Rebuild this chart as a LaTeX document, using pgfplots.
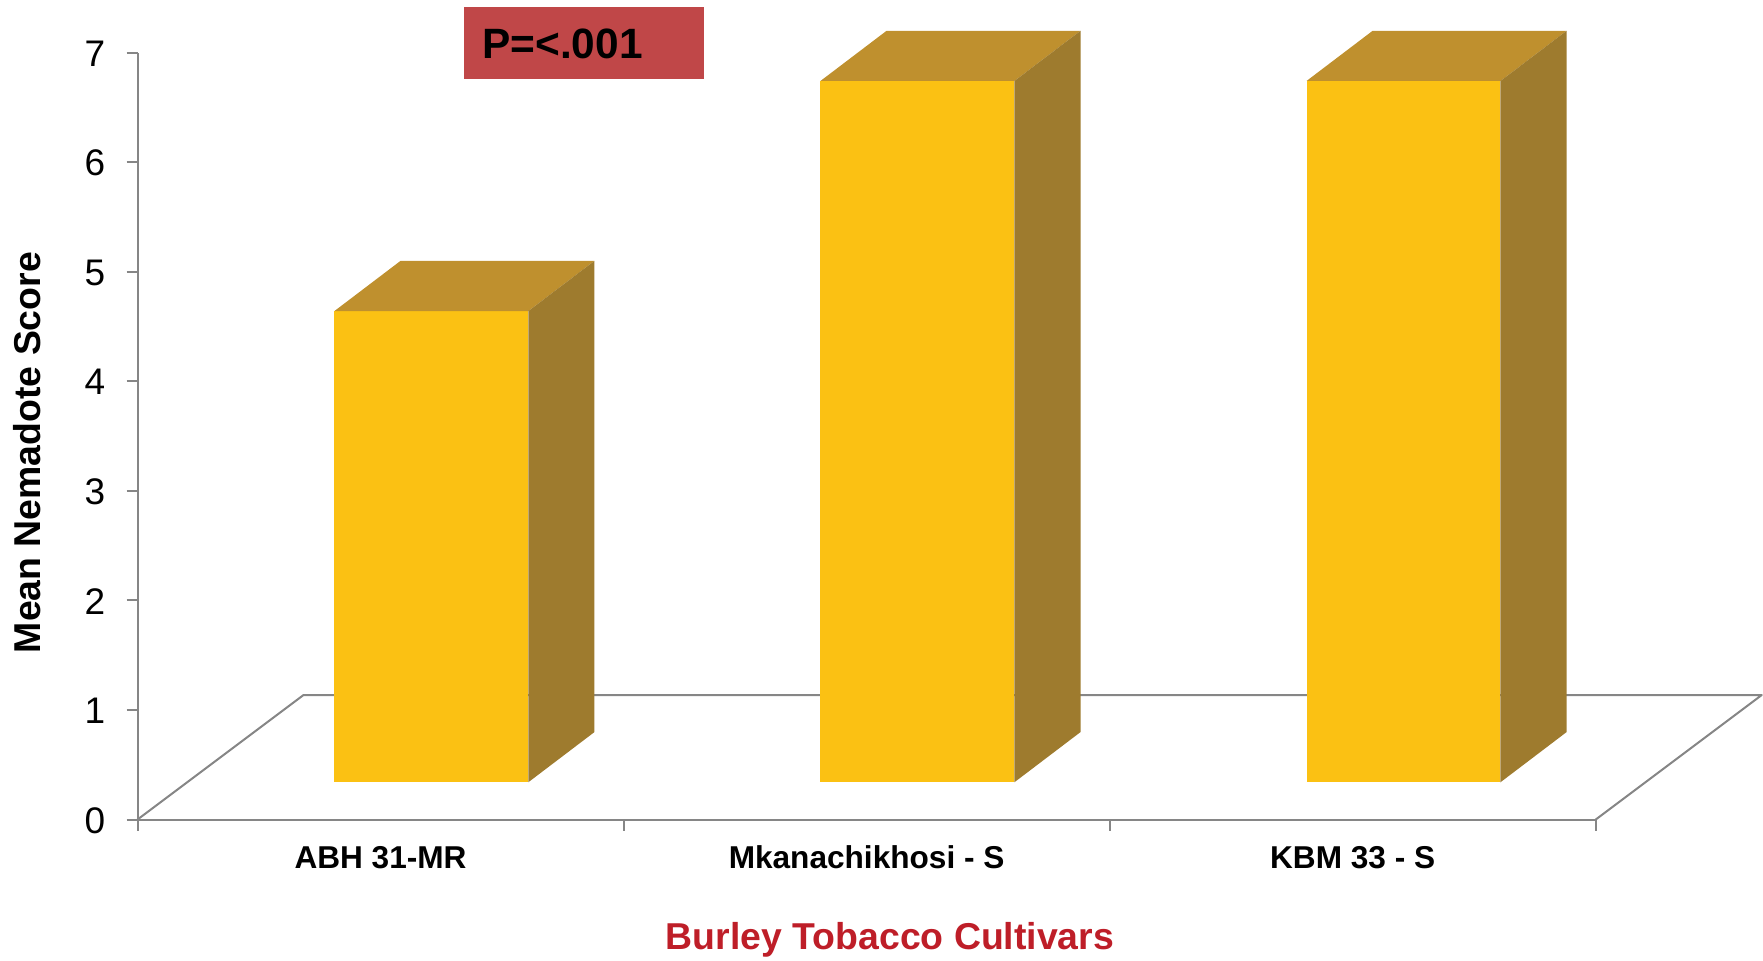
\documentclass[border=0pt]{standalone}
\usepackage{fontspec}
\setmainfont{Liberation Sans}
\usepackage{pgfplots}
\pgfplotsset{compat=1.18}

\definecolor{barfront}{RGB}{251,193,19}
\definecolor{bartop}{RGB}{191,144,46}
\definecolor{barside}{RGB}{158,123,46}
\definecolor{axisgray}{RGB}{134,134,134}
\definecolor{pbox}{RGB}{192,71,72}
\definecolor{titlered}{RGB}{190,30,40}

\begin{document}
\begin{tikzpicture}
\begin{axis}[
  scale only axis,
  width=729.1pt, height=383.5pt,
  xmin=0, xmax=3, ymin=0, ymax=7,
  clip=false,
  axis lines=left,
  axis line style={-, draw=axisgray, line width=1pt},
  tick style={draw=axisgray, line width=1pt},
  tick align=outside,
  major tick length=5.5pt,
  xtick={0,1,2,3}, xticklabels={},
  ytick={0,1,...,7},
  /pgf/number format/assume math mode=true,
  yticklabel style={font=\fontsize{18.5}{18.5}\selectfont, anchor=east, inner sep=0pt, xshift=-10.5pt, yshift=-0.5pt},
  ylabel={Mean Nemadote Score},
  ylabel style={at={(axis cs:-0.2006,3.349)}, rotate=0, anchor=base, inner sep=0pt,
    font=\fontsize{18.7}{18.7}\selectfont\bfseries},
  xlabel={Burley Tobacco Cultivars},
  xlabel style={at={(axis cs:1.548,-1.182)}, anchor=base, inner sep=0pt,
    font=\fontsize{18.7}{18.7}\selectfont\bfseries, text=titlered},
]
% overall extent of the figure
\path (axis cs:-0.2829,-1.2823) rectangle (axis cs:3.3441,7.4793);

% floor of the 3-D plot area
\addplot[draw=axisgray, line width=1pt, line join=round] coordinates {(0,0) (0.3415,1.136) (3.3415,1.136) (3,0)};

% ABH 31-MR: 4.30
\addplot[fill=barfront, draw=none] coordinates {(0.405,0.34) (0.804,0.34) (0.804,4.64) (0.405,4.64)} -- cycle;
\addplot[fill=bartop, draw=none] coordinates {(0.405,4.64) (0.804,4.64) (0.940,5.098) (0.541,5.098)} -- cycle;
\addplot[fill=barside, draw=none] coordinates {(0.804,0.34) (0.940,0.798) (0.940,5.098) (0.804,4.64)} -- cycle;

% Mkanachikhosi - S: 6.40
\addplot[fill=barfront, draw=none] coordinates {(1.405,0.34) (1.804,0.34) (1.804,6.74) (1.405,6.74)} -- cycle;
\addplot[fill=bartop, draw=none] coordinates {(1.405,6.74) (1.804,6.74) (1.940,7.198) (1.541,7.198)} -- cycle;
\addplot[fill=barside, draw=none] coordinates {(1.804,0.34) (1.940,0.798) (1.940,7.198) (1.804,6.74)} -- cycle;

% KBM 33 - S: 6.40
\addplot[fill=barfront, draw=none] coordinates {(2.405,0.34) (2.804,0.34) (2.804,6.74) (2.405,6.74)} -- cycle;
\addplot[fill=bartop, draw=none] coordinates {(2.405,6.74) (2.804,6.74) (2.940,7.198) (2.541,7.198)} -- cycle;
\addplot[fill=barside, draw=none] coordinates {(2.804,0.34) (2.940,0.798) (2.940,7.198) (2.804,6.74)} -- cycle;

% category names
\node[anchor=base, inner sep=0pt, font=\fontsize{15.8}{15.8}\selectfont\bfseries] at (axis cs:0.5,-0.4454) {ABH 31-MR};
\node[anchor=base, inner sep=0pt, font=\fontsize{15.8}{15.8}\selectfont\bfseries] at (axis cs:1.5,-0.4454) {Mkanachikhosi - S};
\node[anchor=base, inner sep=0pt, font=\fontsize{15.8}{15.8}\selectfont\bfseries] at (axis cs:2.5,-0.4454) {KBM 33 - S};

% significance box
\fill[pbox] (axis cs:0.6717,6.758) rectangle (axis cs:1.1655,7.4154);
\node[anchor=base west, inner sep=0pt, font=\fontsize{21.2}{21.2}\selectfont\bfseries] at (axis cs:0.7087,6.947) {P=<.001};
\end{axis}
\end{tikzpicture}
\end{document}
